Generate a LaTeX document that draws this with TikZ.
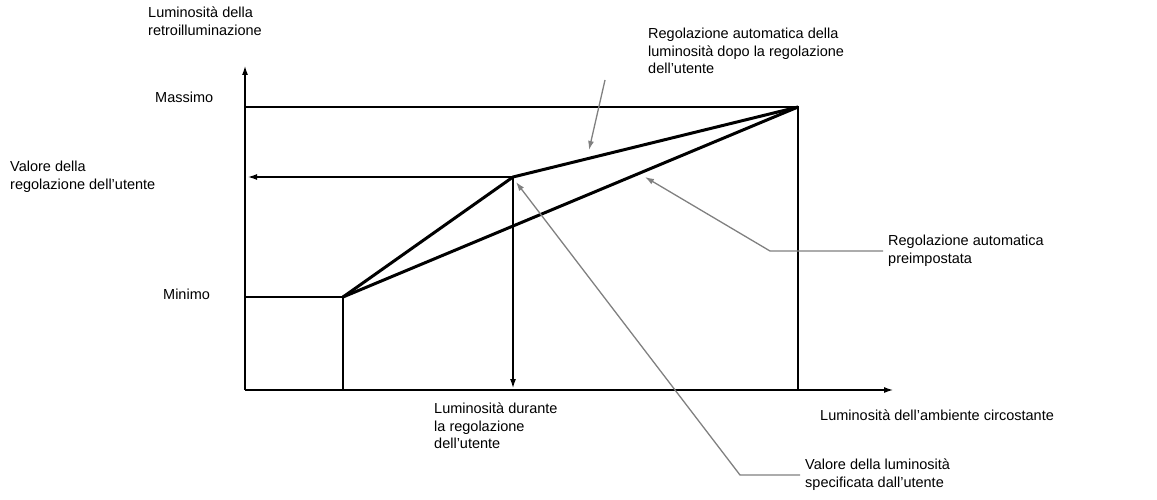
\documentclass[tikz,border=0pt]{standalone}
\usepackage{fontspec}
\setmainfont{Liberation Sans}
\usetikzlibrary{arrows.meta}
\begin{document}
\begin{tikzpicture}[x=1pt,y=-1pt,font=\fontsize{14.5}{17.5}\selectfont]
  \tikzset{thin line/.style={draw,line width=1.2pt},
    curve/.style={draw,line width=3pt,line join=round},
    pointer/.style={draw=gray,line width=1.3pt,-{Latex[length=9pt,width=6pt]}},
    label/.style={align=left,anchor=north west,inner sep=0pt}}
  \useasboundingbox (0,0) rectangle (1157,500);

  \coordinate (origin) at (245,390);
  \coordinate (ytop) at (245,66);
  \coordinate (xend) at (893,390);
  \coordinate (min) at (343,297);
  \coordinate (user) at (513,177);
  \coordinate (max) at (798,107);

  \draw[thin line,-{Latex[length=9pt,width=6pt]}] (origin) -- (ytop);
  \draw[thin line,-{Latex[length=9pt,width=6pt]}] (origin) -- (xend);
  \draw[thin line] (origin |- max) -- (max) -- (max |- origin);
  \draw[thin line] (origin |- min) -- (min) -- (min |- origin);
  \draw[thin line,-{Latex[length=9pt,width=6pt]}] (user) -- (248,177);
  \draw[thin line,-{Latex[length=9pt,width=6pt]}] (user) -- (513,388);
  \draw[curve] (min) -- (user) -- (max);
  \draw[curve] (min) -- (max);

  \node[label] (ylab) at (148,7) {Luminosità della\\retroilluminazione};
  \node[label] (maxlab) at (155,92) {Massimo};
  \node[label] (uservalue) at (10,161) {Valore della\\regolazione dell’utente};
  \node[label] (minlab) at (163,289) {Minimo};
  \node[label] (during) at (434,403) {Luminosità durante\\la regolazione\\dell’utente};
  \node[label] (xlab) at (820,410) {Luminosità dell’ambiente circostante};
  \node[label] (afteruser) at (648,28) {Regolazione automatica della\\luminosità dopo la regolazione\\dell’utente};
  \node[label] (preset) at (888,235) {Regolazione automatica\\preimpostata};
  \node[label] (specified) at (805,459) {Valore della luminosità\\specificata dall’utente};

  \coordinate (bendpreset) at (770,251);
  \coordinate (bendspec) at (740,475);
  \draw[pointer] (605,80) -- (589,150);
  \draw[pointer] (883,251) -- (bendpreset) -- (645,177);
  \draw[pointer] (800,475) -- (bendspec) -- (516,182);
\end{tikzpicture}
\end{document}
